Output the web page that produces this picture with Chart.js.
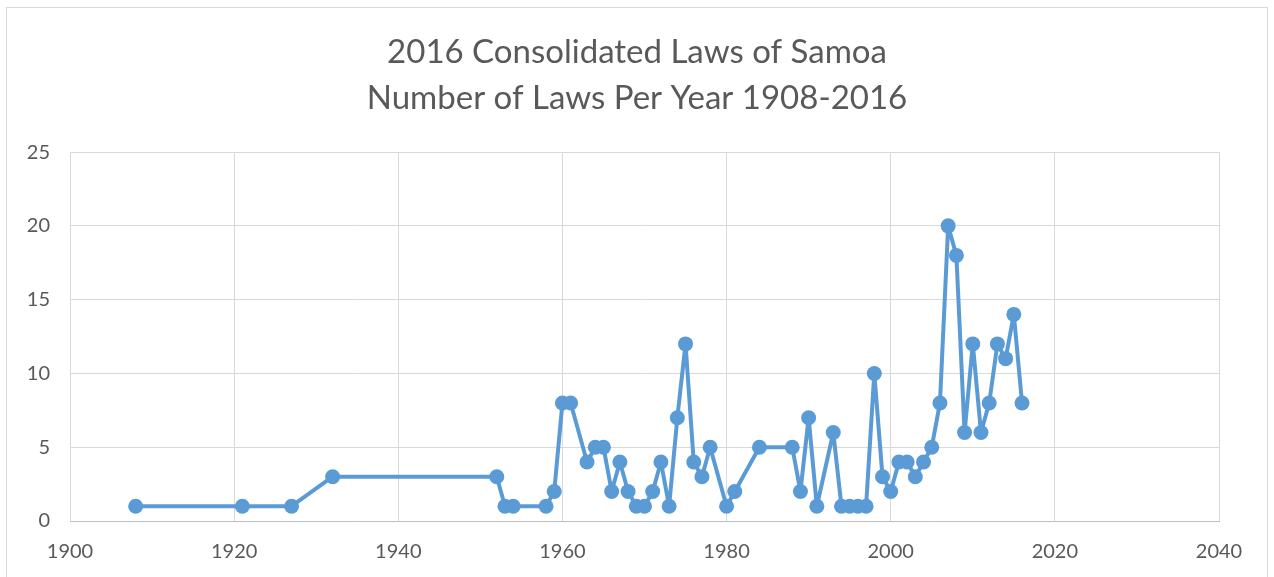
<!DOCTYPE html>
<html>
<head>
<meta charset="utf-8">
<script src="https://cdn.jsdelivr.net/npm/chart.js@4"></script>
<style>
  html, body { margin: 0; padding: 0; background: #fff; overflow: hidden; }
  #wrap { position: absolute; left: 0; top: 0; width: 1274px; height: 577px; }
  #frame { position: absolute; left: 6px; top: 7px; width: 1262px; height: 600px; border: 1px solid #d9d9d9; box-sizing: border-box; }
</style>
</head>
<body>
<div id="wrap">
  <div id="frame"></div>
  <canvas id="lawsChart" width="1274" height="577"></canvas>
</div>
<script>
// number of laws per year
const years = [1908, 1921, 1927, 1932, 1952, 1953, 1954, 1958, 1959, 1960, 1961, 1963, 1964, 1965, 1966, 1967, 1968, 1969, 1970, 1971, 1972, 1973, 1974, 1975, 1976, 1977, 1978, 1980, 1981, 1984, 1988, 1989, 1990, 1991, 1993, 1994, 1995, 1996, 1997, 1998, 1999, 2000, 2001, 2002, 2003, 2004, 2005, 2006, 2007, 2008, 2009, 2010, 2011, 2012, 2013, 2014, 2015, 2016];
const laws = [1, 1, 1, 3, 3, 1, 1, 1, 2, 8, 8, 4, 5, 5, 2, 4, 2, 1, 1, 2, 4, 1, 7, 12, 4, 3, 5, 1, 2, 5, 5, 2, 7, 1, 6, 1, 1, 1, 1, 10, 3, 2, 4, 4, 3, 4, 5, 8, 20, 18, 6, 12, 6, 8, 12, 11, 14, 8];
const titleLines = ["2016 Consolidated Laws of Samoa", "Number of Laws Per Year 1908-2016"];

const points = years.map((yr, i) => ({ x: yr, y: laws[i] }));
const fontFamily = "Lato, 'Open Sans', sans-serif";
const blue = "#5b9bd5";
const grey = "#595959";

const ctx = document.getElementById("lawsChart").getContext("2d");
new Chart(ctx, {
    type: 'line',
    data: {
        datasets: [{
            data: points,
            borderColor: blue,
            backgroundColor: blue,
            borderWidth: 4,
            borderJoinStyle: 'round',
            pointRadius: 7.5,
            pointBorderWidth: 0,
            pointHoverRadius: 7.5,
            tension: 0
        }]
    },
    options: {
        responsive: false,
        animation: false,
        layout: { padding: 0 },
        plugins: {
            legend: { display: false },
            tooltip: { enabled: false },
            title: {
                display: true,
                text: titleLines,
                color: grey,
                font: { family: fontFamily, size: 33, weight: 'normal', lineHeight: 1.38 },
                padding: { top: 30, bottom: 31 }
            }
        },
        scales: {
            x: {
                type: 'linear',
                min: 1900,
                max: 2040,
                afterFit: s => { s.height = 56; },
                ticks: { stepSize: 20, color: grey, font: { family: fontFamily, size: 20 }, padding: 19, callback: v => String(v) },
                grid: { color: "#d9d9d9", drawTicks: false },
                border: { color: "#bfbfbf", width: 1 }
            },
            y: {
                min: 0,
                max: 25,
                afterFit: s => { s.width = 70; },
                ticks: { stepSize: 5, color: grey, font: { family: fontFamily, size: 20 }, padding: 20 },
                grid: { color: "#d9d9d9", drawTicks: false },
                border: { display: false }
            },
            // empty right axis that only reserves the margin on the right
            yRight: {
                position: 'right',
                min: 0,
                max: 25,
                afterFit: s => { s.width = 55; },
                ticks: { display: false },
                grid: { display: false },
                border: { display: false }
            }
        }
    }
});
</script>
</body>
</html>
